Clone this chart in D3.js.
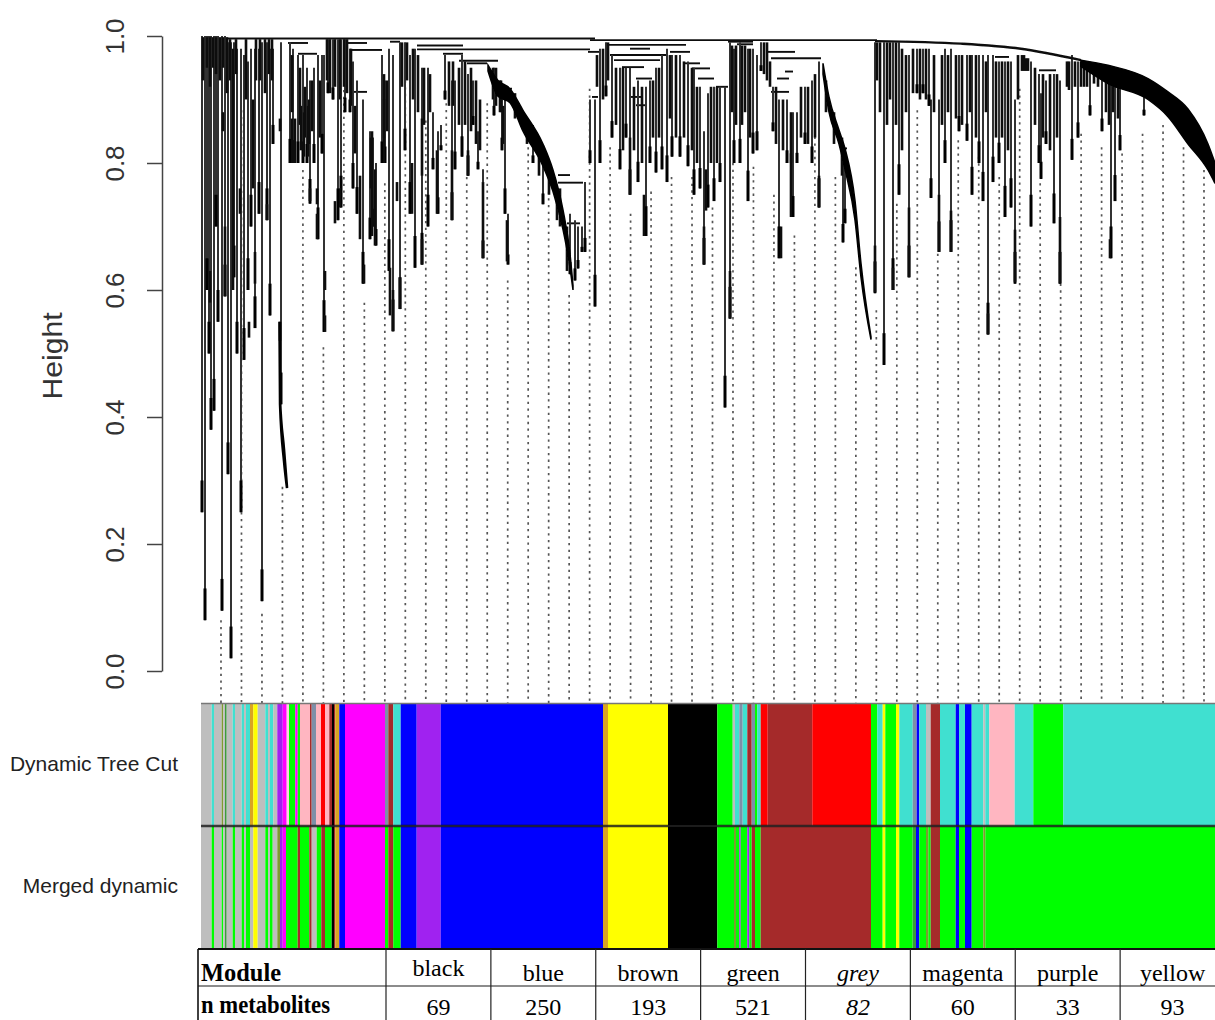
<!DOCTYPE html>
<html><head><meta charset="utf-8">
<script src="https://cdn.jsdelivr.net/npm/d3@7"></script>
<style>html,body{margin:0;padding:0;background:#fff;overflow:hidden}svg{display:block}</style>
</head><body><svg id="c" width="1215" height="1020"></svg>
<script>
// --- values ---
const yTicks = [0, 0.2, 0.4, 0.6, 0.8, 1.0];
// stems: [leaf rank, merge height, lowest height]
const stems = [
[1,1,.25],[4,1,.08],[6,1,.6],[8,1,.5],[10,1,.38],[13,1,.41],[15,1,.7],[17,1,.55],[21,1,.095],[24,1,.59],[27,.99,.31],[30,.99,.02],[33,.99,.62],[36,.98,.5],[40,.98,.25],[43,.97,.49],[47,.96,.6],[50,.98,.7],[54,.98,.54],[58,.98,.72],[61,.99,.11],[66,.99,.71],[69,.98,.56],[72,.98,.83],[80,.99,.42],
[89,.99,.80],[92,.98,.80],[97,.97,.80],[102,.97,.80],[106,.95,.80],[109,.93,.736],[113,.95,.80],[117,.97,.68],[121,.97,.815],[123,.97,.534],[127,.995,.91],[132,.995,.90],[137,.995,.71],[140,.995,.73],[144,.995,.88],[149,.98,.88],[152,.96,.76],[156,.93,.72],[162,.90,.61],[169,.85,.68],[172,.84,.70],[175,.80,.67],[181,.97,.80],[184,.93,.80],[188,.98,.63],[192,.97,.535],[199,.99,.57],[204,.99,.82],[209,.97,.72],[214,.98,.635],[221,.95,.64],[227,.95,.70],[232,.88,.79],[237,.85,.72],[240,.86,.82],[244,.97,.90],[251,.93,.71],[254,.93,.79],[261,.97,.81],[267,.94,.78],[272,.93,.86],[277,.85,.79],[282,.79,.65],[293,.95,.875],[301,.92,.82],[304,.92,.72],[307,.72,.64],
[332,.86,.80],[342,.82,.735],[369,.72,.625],[374,.71,.615],[377,.70,.634],[381,.70,.66],[384,.77,.66],[389,.90,.80],[394,.90,.574],[399,.98,.80],
[405,.99,.905],[411,.97,.84],[419,.95,.79],[425,.95,.84],[429,.95,.75],[437,.93,.77],[445,.92,.685],[449,.93,.80],[455,.95,.785],[461,.97,.79],[466,.98,.77],[471,.97,.81],[479,.97,.81],[487,.96,.795],[493,.95,.75],[499,.92,.76],[503,.85,.64],[507,.91,.73],[513,.92,.74],[519,.92,.77],[524,.92,.415],[529,.99,.555],[533,.98,.80],[539,.99,.80],[547,.98,.74],[552,.98,.815],[556,.97,.82],[560,.99,.945],
[572,.92,.85],[578,.90,.65],[586,.90,.80],[592,.88,.715],[596,.88,.80],[604,.92,.83],[611,.93,.80],[618,.96,.73],[642,.82,.675],[644,.82,.705],
[674,.99,.595],[683,.99,.482],[692,.99,.60],[698,.99,.75],[708,.97,.62],[716,.98,.91],[722,.98,.91],[728,.98,.89],[730,.90,.745],[738,.90,.66],[744,.98,.80],[750,.98,.66],[758,.97,.85],[766,.97,.835],[771,.97,.75],[778,.97,.80],[782,.97,.74],[787,.97,.53],[792,.97,.77],[798,.96,.80],[804,.96,.715],[810,.96,.73],[814,.90,.61],[830,.96,.70],[838,.94,.80],[840,.91,.775],[845,.93,.83],[853,.94,.705],[859,.93,.61],[871,.97,.805],[877,.96,.84],[889,.955,.875],[901,.95,.85],[910,.95,.65],[914,.945,.74],[919,.94,.82],[943,.92,.875]
];
// short dark tufts and thick stretches of the branches: [leaf rank, top, bottom]
const tufts = [
[2,.998,.93],[6,.998,.95],[9,.998,.92],[12,.998,.95],[15,.998,.94],[19,.998,.93],[22,.998,.95],[26,.998,.91],[29,.995,.93],[35,.995,.94],[45,.995,.9],[55,.995,.93],[59,.995,.93],[64,.995,.91],[68,.995,.94],[71,.995,.93],
[91,.97,.88],[99,.95,.86],[104,.92,.84],[108,.9,.83],[111,.93,.85],[119,.93,.84],
[126,.995,.93],[129,.995,.91],[134,.995,.92],[139,.995,.9],[143,.995,.92],[146,.995,.91],[150,.98,.89],[170,.84,.76],[183,.94,.84],[186,.93,.85],
[201,.99,.92],[206,.99,.93],[212,.98,.9],[217,.97,.88],[223,.95,.86],[229,.94,.88],[248,.96,.89],[252,.96,.89],[258,.95,.86],[264,.96,.86],[270,.95,.85],[275,.93,.83],[279,.9,.82],[295,.95,.89],[299,.93,.88],
[396,.97,.92],[402,.98,.9],[407,.99,.93],[415,.95,.86],[422,.95,.82],[433,.92,.82],[441,.92,.8],[452,.93,.84],[458,.95,.84],[469,.97,.87],[475,.97,.84],[483,.96,.84],[491,.95,.82],[496,.92,.8],[510,.92,.8],[516,.92,.8],
[531,.985,.88],[535,.985,.86],[541,.985,.86],[544,.985,.88],[549,.98,.84],[563,.99,.94],[566,.99,.93],[569,.96,.92],[575,.92,.83],[582,.9,.82],[590,.88,.8],[600,.92,.84],[607,.92,.83],[614,.94,.84],
[676,.99,.93],[679,.99,.88],[686,.99,.86],[689,.99,.9],[695,.99,.86],[701,.98,.82],[705,.97,.88],[712,.98,.91],[719,.98,.9],[725,.98,.9],[733,.97,.88],[741,.97,.86],[747,.97,.88],[755,.97,.87],[761,.97,.86],[769,.97,.88],[775,.97,.84],[785,.96,.88],[795,.96,.84],[801,.96,.84],[807,.96,.82],[817,.97,.9],
[821,.97,.945],[823,.97,.945],[825,.965,.945],[827,.965,.945],[834,.95,.86],[842,.94,.84],[849,.94,.82],[856,.94,.84],[866,.96,.92],[868,.96,.915],[874,.96,.92],[880,.96,.92],[883,.955,.92],[886,.955,.92],[893,.95,.925],[897,.95,.92],[905,.95,.88],[908,.95,.86],[912,.945,.88],[917,.94,.87],
[22,.88,.85],[24,.70,.59],[9,.63,.58],[32,.98,.6],[54,.66,.61],[66,.735,.71],[79,.87,.85],[79,.55,.52],[48,.55,.525],[39,.76,.72],[52,.9,.76],
[91,.87,.80],[94,.87,.80],[100,.89,.82],[103,.88,.81],[107,.89,.81],[124,.63,.60],[124,.56,.534],[116,.76,.735],[116,.72,.68],[109,.76,.74],[134,.74,.705],[139,.76,.73],
[154,.89,.815],[159,.78,.68],[163,.64,.61],[171,.85,.685],[174,.79,.67],[183,.9,.80],[189,.635,.56],[192,.6,.535],[199,.62,.57],[196,.77,.74],[211,.80,.72],[221,.87,.78],[221,.68,.64],[236,.82,.72],[251,.82,.71],[267,.82,.78],[282,.77,.65],[306,.71,.645],[302,.89,.83],
[429,.84,.75],[443,.75,.685],[503,.70,.64],[505,.79,.725],[529,.63,.555],[580,.70,.65],[590,.815,.715],[618,.78,.73],[674,.67,.597],[692,.635,.60],[708,.73,.62],[738,.75,.66],[750,.725,.66],[787,.563,.53],[814,.695,.613],[859,.715,.61],[909,.68,.65],
[292,.95,.90],[300,.93,.88],[314,.91,.87],[326,.87,.83],[338,.83,.78],[348,.8,.75],[356,.76,.71],[359,.76,.70],[366,.70,.63],[625,.93,.88],[633,.88,.83],[641,.84,.78]
];
// heavy curved tails: [leaf rank, upper height, lower height]
const tailA = [[287,.954,.945],[297,.93,.905],[309,.917,.895],[322,.883,.85],[342,.83,.795],[352,.789,.755],[362,.726,.695],[369,.657,.635],[372,.607,.6]];
const tailB = [[622,.957,.94],[628,.904,.88],[638,.852,.83],[644,.823,.79],[654,.741,.71],[660,.642,.62],[670,.526,.522]];
const tailC = [[78.5,.55,.54],[79,.43,.42],[83,.35,.33],[86,.29,.288]];
// dense band at the right end: [leaf rank, upper height, lower height]
const rightBand = [[880,.962,.952],[907,.954,.925],[947,.933,.90],[967,.912,.873],[987,.885,.83],[1007,.83,.789],[1014,.80,.768]];
// upper outline of the tree right of the last big merge: [leaf rank, height]
const outline = [[674,.992],[760,.988],[820,.98],[880,.962]];
// merge levels: [from rank, to rank, height]
const merges = [
[1,394,.996],[389,676,.9935],[216,389,.979],[216,262,.985],[87,107,.989],[97,116,.972],[149,181,.978],[147,166,.989],[189,199,.991],[152,166,.912],[242,262,.972],[266,286,.957],[258,297,.961],[301,311,.917],[357,369,.781],[357,382,.769],[366,379,.705],[387,399,.975],[391,397,.904],
[405,485,.986],[429,449,.98],[409,465,.97],[413,459,.962],[421,443,.951],[435,451,.933],[429,441,.904],[435,445,.891],[469,489,.975],[483,499,.957],[491,509,.949],[497,513,.933],[515,527,.92],[527,552,.991],[536,552,.987],[566,594,.975],[570,620,.965],[584,592,.944],[570,588,.912],[576,588,.933],[640,646,.823],[794,808,.967],[838,855,.946]
];
// start height of the dotted guide lines, left to right
const guideTops = [.08,.883,.09,.29,.789,.51,.915,.58,.768,.93,.867,.894,.778,.894,.615,.825,.755,.592,.917,.825,.72,.755,.778,.778,.73,.80,.794,.75,.686,.873,.778,.636,.568,.736,.883,.657,.836,.81,.778,.917,.768,.61,.846,.825,.815,.846,.86,.825,.789];

const rowNames = ["Dynamic Tree Cut","Merged dynamic"];
const c = {g:"#BEBEBE",t:"#40E0D0",b:"#0000FF",G:"#00FF00",r:"#FF0000",y:"#FFFF00",m:"#FF00FF",p:"#A020F0",P:"#FFB6C1",k:"#000000",n:"#A52A2A",o:"#DAA520",d:"#3C9A3C",s:"#7E8FA8",w:"#FFD0E0",l:"#7F9A30"};
const row1 = [["g",10.7],["t",13],["g",20.7],["l",22.3],["g",24],["d",25.7],["g",31.7],["t",34],["g",40.7],["t",43],["g",45],["t",49],["o",52.3],["y",56.7],["g",64.3],["t",67],["g",69],["t",72.3],["g",76.3],["p",81.7],["m",85.7],["w",88],["G",94.3],["m",96.7],["G",99],["P",109],["n",110.7],["s",115],["P",120],["r",124],["P",128.3],["n",131],["k",133],["n",134.3],["o",138.3],["b",144],["m",184],["s",187.3],["n",192.3],["t",199.7],["b",215.7],["p",239.7],["b",402],["o",407],["y",467],["k",516.3],["G",531.7],["g",534],["t",538.3],["s",541.7],["t",546.3],["n",550.7],["s",554],["G",556.3],["t",559.7],["r",566.7],["n",611.3],["r",670],["G",676.3],["t",681.7],["y",684.3],["G",695],["y",698.3],["t",711.7],["s",715.7],["b",718.3],["t",725],["g",729.7],["n",739],["t",754.7],["b",758],["t",764],["b",770.7],["t",782.3],["g",784.3],["t",788.3],["P",813.7],["t",832.3],["G",862.3],["t",1014]];
const row2 = [["g",10.7],["G",13],["g",20.7],["G",22.3],["g",24],["d",25.7],["g",31.7],["G",34],["g",40.7],["G",43],["g",45],["G",49],["g",52.3],["y",56.7],["g",64.3],["G",67],["g",69],["G",71.7],["g",76.3],["l",79],["p",81.7],["m",85],["G",96.7],["n",99],["G",108.3],["n",110.7],["g",115.7],["G",120.3],["n",124],["G",130.7],["k",133],["n",134.3],["o",138.3],["b",144],["m",184],["G",187.3],["n",192.3],["G",199.7],["b",215.7],["p",239.7],["b",402],["o",407],["y",467],["k",516.3],["G",533],["l",535],["G",538.3],["p",539.7],["G",546.3],["p",548.3],["G",550.7],["n",554],["G",559.7],["n",670],["G",681.7],["y",684.3],["G",695],["y",698.3],["G",711.7],["d",715],["b",718.3],["G",725],["l",727.3],["G",729.7],["n",739],["G",754.7],["b",758],["G",764],["b",770.7],["G",782.3],["l",784.3],["G",1014]];
const rows = [row1,row2];

const tableHead = ["Module","n metabolites"];
const modules = ["black","blue","brown","green","grey","magenta","purple","yellow"];
const counts = [69,250,193,521,82,60,33,93];

// --- drawing ---
const svg = d3.select("#c");
svg.append("defs").append("filter").attr("id","soft").attr("filterUnits","userSpaceOnUse").attr("x",0).attr("y",0).attr("width",1215).attr("height",1020)
  .append("feGaussianBlur").attr("stdDeviation",0.75);
const x = d3.scaleLinear().domain([0,1014]).range([201,1215]);
const y = d3.scaleLinear().domain([0,1]).range([671,36]);
const rowY = d3.scaleBand().domain([0,1]).range([704,948]);

const tree = svg.append("g").attr("filter","url(#soft)");
const guideX = d3.scaleLinear().domain([0,guideTops.length-1]).range([221,1204]);
tree.append("g").selectAll("line").data(guideTops).join("line")
  .attr("x1",(d,i)=>guideX(i)).attr("x2",(d,i)=>guideX(i))
  .attr("y1",d=>y(d)).attr("y2",703)
  .attr("stroke","#555").attr("stroke-width",1.7).attr("stroke-dasharray","2.3 4.4");
tree.append("g").selectAll("line").data(merges).join("line")
  .attr("x1",d=>x(d[0])).attr("x2",d=>x(d[1])).attr("y1",d=>y(d[2])).attr("y2",d=>y(d[2]))
  .attr("stroke","#111").attr("stroke-width",1.9);
tree.append("g").selectAll("line").data(stems).join("line")
  .attr("x1",d=>x(d[0])).attr("x2",d=>x(d[0])).attr("y1",d=>y(d[1])).attr("y2",d=>y(d[2]))
  .attr("stroke","#333").attr("stroke-width",2);
tree.append("g").selectAll("line").data(stems).join("line")
  .attr("x1",d=>x(d[0])).attr("x2",d=>x(d[0]))
  .attr("y1",d=>y(d[2]+Math.min(.05,(d[1]-d[2])*.2))).attr("y2",d=>y(d[2]))
  .attr("stroke","#000").attr("stroke-width",3);
tree.append("g").selectAll("line").data(tufts).join("line")
  .attr("x1",d=>x(d[0])).attr("x2",d=>x(d[0])).attr("y1",d=>y(d[1])).attr("y2",d=>y(d[2]))
  .attr("stroke","#111").attr("stroke-width",2.6);
tree.append("path").attr("d",d3.line().x(d=>x(d[0])).y(d=>y(d[1])).curve(d3.curveMonotoneX)(outline)).attr("fill","none").attr("stroke","#111").attr("stroke-width",2.4);
const band = d3.area().x(d=>x(d[0])).y0(d=>y(d[2])).y1(d=>y(d[1])).curve(d3.curveMonotoneX);
[tailA,tailB,rightBand].forEach(t=>tree.append("path").attr("d",band(t)).attr("fill","#000").attr("stroke","#000").attr("stroke-width",1.5));
tree.append("path").attr("d",band(tailC)).attr("fill","#000").attr("stroke","#000").attr("stroke-width",2.5);

// axis
const axis = svg.append("g").attr("transform","translate(162,0)").call(d3.axisLeft(y).tickValues(yTicks).tickSize(15).tickSizeOuter(0).tickFormat(d3.format(".1f")));
axis.select(".domain").attr("stroke","#444").attr("stroke-width",1.5);
axis.selectAll(".tick line").attr("stroke","#444").attr("stroke-width",1.5);
axis.selectAll(".tick text").attr("font-family","Liberation Sans").attr("font-size",26).attr("fill","#333")
  .attr("transform","translate(-47,0) rotate(-90)").attr("x",0).attr("y",0).attr("text-anchor","middle").attr("dy",".35em");
svg.append("text").attr("transform","translate(52,356) rotate(-90)").attr("text-anchor","middle").attr("dy",".35em")
  .attr("font-family","Liberation Sans").attr("font-size",28).attr("textLength",87).attr("lengthAdjust","spacingAndGlyphs").attr("fill","#333").text("Height");

// colour rows
const bands = svg.append("g").attr("filter","url(#soft)");
rows.forEach((r,i)=>{
  bands.append("g").selectAll("rect").data(r).join("rect")
    .attr("x",(d,j)=>x(j?r[j-1][1]:0)).attr("width",(d,j)=>x(d[1])-x(j?r[j-1][1]:0))
    .attr("y",rowY(i)).attr("height",rowY.bandwidth()).attr("fill",d=>c[d[0]]);
});
bands.append("line").attr("x1",201).attr("x2",1215).attr("y1",rowY(1)).attr("y2",rowY(1)).attr("stroke","#222").attr("stroke-width",2.4).attr("opacity",.85);
bands.append("line").attr("x1",201).attr("x2",1215).attr("y1",703.5).attr("y2",703.5).attr("stroke","#777").attr("stroke-width",1.5);
svg.append("g").selectAll("text").data(rowNames).join("text")
  .attr("x",178).attr("y",(d,i)=>rowY(i)+60).attr("dy",".35em").attr("text-anchor","end")
  .attr("font-family","Liberation Sans").attr("font-size",21).attr("fill","#222").text(d=>d);

// table
const tx = d3.scaleBand().domain(modules).range([386,1225]);
const tbl = svg.append("g");
tbl.append("line").attr("x1",198).attr("x2",1215).attr("y1",949).attr("y2",949).attr("stroke","#111").attr("stroke-width",2);
tbl.append("line").attr("x1",198).attr("x2",1215).attr("y1",986).attr("y2",986).attr("stroke","#666").attr("stroke-width",1.6);
tbl.append("line").attr("x1",198).attr("x2",198).attr("y1",949).attr("y2",1020).attr("stroke","#111").attr("stroke-width",1.6);
tbl.append("g").selectAll("line").data(modules).join("line")
  .attr("x1",d=>tx(d)).attr("x2",d=>tx(d)).attr("y1",949).attr("y2",1020).attr("stroke","#222").attr("stroke-width",1.2);
tbl.append("g").selectAll("text").data(tableHead).join("text")
  .attr("x",201).attr("y",(d,i)=>i?1013:981).attr("font-family","Liberation Serif").attr("font-weight","bold").attr("font-size",25)
  .attr("textLength",(d,i)=>i?129:80).attr("lengthAdjust","spacingAndGlyphs").attr("fill","#000").text(d=>d);
tbl.append("g").selectAll("text").data(modules).join("text")
  .attr("x",d=>tx(d)+tx.bandwidth()/2).attr("y",(d,i)=>i?981:976).attr("text-anchor","middle")
  .attr("font-family","Liberation Serif").attr("font-size",24).attr("font-style",d=>d==="grey"?"italic":"normal").attr("fill","#000").text(d=>d);
tbl.append("g").selectAll("text").data(counts).join("text")
  .attr("x",(d,i)=>tx(modules[i])+tx.bandwidth()/2).attr("y",1014.5).attr("text-anchor","middle")
  .attr("font-family","Liberation Serif").attr("font-size",24).attr("font-style",(d,i)=>modules[i]==="grey"?"italic":"normal").attr("fill","#000").text(d=>d);
</script></body></html>
